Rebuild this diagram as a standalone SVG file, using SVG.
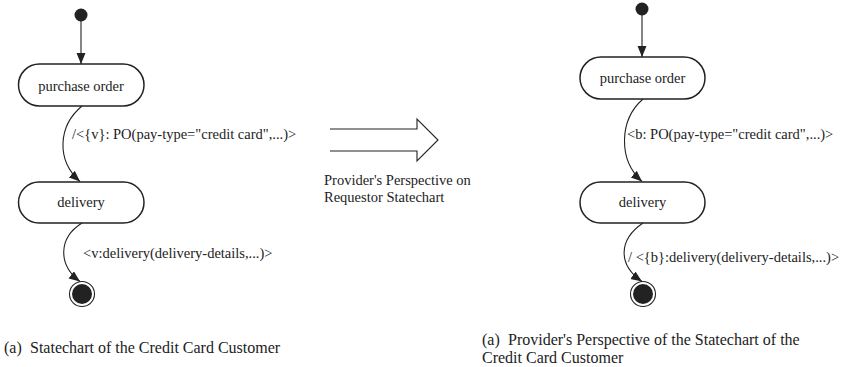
<svg xmlns="http://www.w3.org/2000/svg" width="851" height="367" viewBox="0 0 851 367">
<style>
text{font-family:"Liberation Serif","Times New Roman",serif;fill:#222}
.lbl{font-size:14.5px}
.cap{font-size:16px}
.state{fill:#fff;stroke:#222;stroke-width:1.5}
.conn{fill:none;stroke:#222;stroke-width:1.1}
.dot{fill:#222}
.fin{fill:#fff;stroke:#222;stroke-width:1.1}
</style>
<defs>
<marker id="ah" markerUnits="userSpaceOnUse" markerWidth="12" markerHeight="10" refX="11" refY="4.5" orient="auto">
<path d="M0,0 L11,4.5 L0,9 z" fill="#222"/>
</marker>
</defs>

<g id="left-initial"><circle class="dot" cx="81" cy="15" r="6.5"/></g>
<g id="left-purchase-order">
<rect class="state" x="18.5" y="64" width="125.5" height="42" rx="21"/>
<text class="lbl" x="81" y="90.5" text-anchor="middle">purchase order</text>
</g>
<g id="left-delivery">
<rect class="state" x="18.5" y="182" width="125.5" height="41" rx="20.5"/>
<text class="lbl" x="81" y="207" text-anchor="middle">delivery</text>
</g>
<g id="left-final"><circle class="fin" cx="82" cy="294" r="12.5"/><circle class="dot" cx="82" cy="294" r="10"/></g>

<g id="right-initial"><circle class="dot" cx="642" cy="9" r="6.5"/></g>
<g id="right-purchase-order">
<rect class="state" x="580" y="57" width="125" height="42" rx="21"/>
<text class="lbl" x="642.5" y="83" text-anchor="middle">purchase order</text>
</g>
<g id="right-delivery">
<rect class="state" x="580" y="182" width="125" height="41" rx="20.5"/>
<text class="lbl" x="642.5" y="207" text-anchor="middle">delivery</text>
</g>
<g id="right-final"><circle class="fin" cx="643" cy="294" r="12.5"/><circle class="dot" cx="643" cy="294" r="10"/></g>

<g id="connectors">
<path class="conn" d="M81 21 V64" marker-end="url(#ah)"/>
<path class="conn" d="M82 106 C58 126 56 160 80 181.5" marker-end="url(#ah)"/>
<path class="conn" d="M82 223 C58 238 58 265 80 281.5" marker-end="url(#ah)"/>
<path class="conn" d="M642 15 V57" marker-end="url(#ah)"/>
<path class="conn" d="M643 99 C619 120 618 160 642 181.5" marker-end="url(#ah)"/>
<path class="conn" d="M643 223 C618 240 618 265 642 281.5" marker-end="url(#ah)"/>
</g>

<g id="labels">
<text class="lbl" x="72" y="138.5">/&lt;{v}: PO(pay-type="credit card",...)&gt;</text>
<text class="lbl" x="83" y="257.5">&lt;v:delivery(delivery-details,...)&gt;</text>
<text class="lbl" x="627" y="138.5">&lt;b: PO(pay-type="credit card",...)&gt;</text>
<text class="lbl" x="628" y="261.5">/ &lt;{b}:delivery(delivery-details,...)&gt;</text>
</g>

<g id="transform-arrow">
<path class="conn" d="M330 129 H417 V119 L438 140 L417 161 V151 H330"/>
<text class="lbl" x="324" y="184.5">Provider's Perspective on</text>
<text class="lbl" x="324" y="201.5">Requestor Statechart</text>
</g>

<g id="captions">
<text class="cap" y="352.5"><tspan x="4">(a)</tspan><tspan x="30">Statechart of the Credit Card Customer</tspan></text>
<text class="cap" y="344.5"><tspan x="482">(a)</tspan><tspan x="508">Provider's Perspective of the Statechart of the</tspan></text>
<text class="cap" x="482" y="362.5">Credit Card Customer</text>
</g>
</svg>
